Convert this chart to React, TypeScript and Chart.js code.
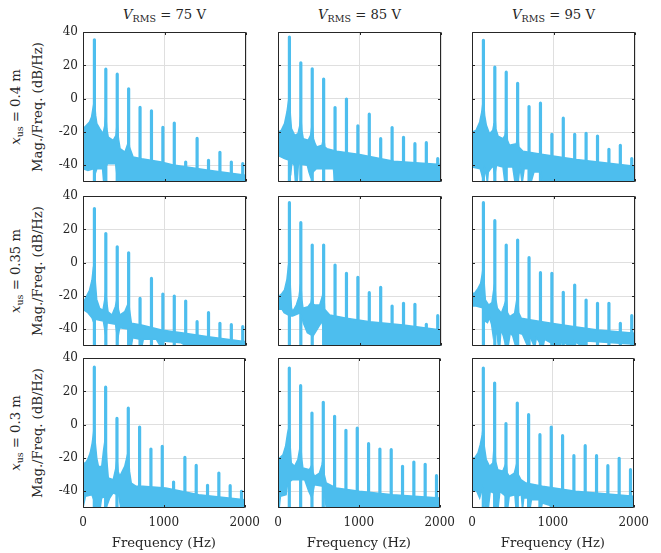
import React, { useEffect, useRef } from 'react';
import { Chart, registerables } from 'chart.js';

Chart.register(...registerables);

// ---------- data ----------
const HARMONICS_HZ = [140, 280, 420, 560, 700, 840, 980, 1120, 1260, 1400, 1540, 1680, 1820, 1960];
const FREQ_TICKS = [0, 1000, 2000];
const DB_TICKS = [-40, -20, 0, 20, 40];
const FREQ_MIN = 0;
const FREQ_MAX = 2000;
const DB_MIN = -50;
const DB_MAX = 40;
const VOLTAGES = ['75', '85', '95'];
const POSITIONS = ['0.4', '0.35', '0.3'];

// x_us = 0.4 m
const PEAKS_X04_V75 = [35.4, 17.8, 14.8, 6, -5.2, -7.2, -17.2, -14.6, -38, -23.8, -37, -32.2, -38, -39];
const UPPER_X04_V75 = [[0, -18], [40, -16], [80, -14], [105, -11], [125, -5], [140, -1], [155, -10], [170, -15], [205, -18], [245, -21], [268, -16], [280, -10], [292, -18], [310, -23], [370, -25], [405, -22], [420, -14], [435, -24], [455, -30], [515, -32], [550, -27], [560, -22], [570, -29], [615, -35], [720, -36], [960, -38], [1130, -40], [1540, -43], [2000, -46]];
const LOWER_X04_V75 = [[0, -42], [60, -43], [130, -42], [150, -45], [170, -42], [240, -42], [255, -51], [270, -42], [300, -39], [400, -39], [430, -51], [2000, -51]];

const PEAKS_X04_V85 = [37, 21.5, 17.9, 11.8, -5.3, -0.2, -16.3, -9.3, -24, -17.3, -23.2, -27, -26.4, -36];
const UPPER_X04_V85 = [[0, -20], [40, -19], [80, -15], [110, -8], [127, -2], [140, 2], [152, -10], [165, -18], [205, -22], [245, -21], [268, -16], [280, -10], [292, -19], [310, -24], [370, -25], [400, -22], [420, -15], [435, -24], [455, -27], [475, -29], [540, -28], [560, -23], [575, -29], [600, -30], [720, -31.5], [1000, -33.5], [1420, -37.5], [2000, -39.5]];
const LOWER_X04_V85 = [[0, -34], [80, -36], [140, -37], [155, -46], [170, -38], [200, -40], [215, -51], [235, -51], [250, -39], [360, -40], [380, -44], [400, -47], [430, -44], [470, -42], [680, -42], [700, -51], [2000, -51]];

const PEAKS_X04_V95 = [35, 18.9, 15.9, 9.2, -4.7, -2.7, -21.4, -11.7, -21.4, -20.8, -22.4, -30.4, -28, -36];
const UPPER_X04_V95 = [[0, -20], [50, -19], [95, -14], [120, -8], [140, 0], [155, -10], [176, -16], [215, -21], [255, -19], [270, -15], [280, -9], [292, -18], [320, -22.5], [380, -24], [405, -22], [420, -16], [435, -25], [460, -28], [545, -27], [560, -22], [575, -29], [625, -31.5], [870, -33.5], [1280, -36.5], [2000, -40.5]];
const LOWER_X04_V95 = [[0, -41], [100, -42], [123, -46], [150, -41], [180, -47], [188, -51], [200, -44], [260, -40], [278, -46], [300, -40], [380, -41], [400, -49], [420, -41], [500, -41], [530, -51], [560, -51], [590, -41], [615, -51], [640, -42], [700, -42], [720, -51], [760, -44], [840, -44], [870, -51], [2000, -51]];

// x_us = 0.35 m
const PEAKS_X035_V75 = [32.6, 17.6, 9.6, 6, -21.4, -9.4, -18.8, -20, -23, -35.4, -30, -36.4, -37.2, -38.4];
const UPPER_X035_V75 = [[0, -24.4], [40, -20.5], [80, -16.5], [110, -10.5], [127, -3], [140, 0], [152, -12], [168, -22], [205, -27.4], [245, -28.4], [266, -22.4], [280, -17], [292, -24], [307, -29.4], [356, -31.4], [397, -26.4], [420, -21], [435, -28], [451, -31.4], [512, -29.4], [550, -25], [560, -22], [570, -28], [594, -36.4], [717, -37.4], [963, -40.4], [1250, -42.4], [1537, -44.4], [2000, -47.4]];
const LOWER_X035_V75 = [[0, -28], [60, -30], [110, -33], [125, -35], [150, -34], [250, -35], [280, -44], [295, -36], [400, -37], [425, -46], [450, -39], [570, -40], [590, -51], [610, -45], [700, -46], [720, -51], [740, -46], [900, -46], [960, -51], [980, -47], [1200, -48], [1300, -51], [2000, -51]];

const PEAKS_X035_V85 = [36, 24, 10.6, 10.6, -1.4, -6.4, -8.8, -18, -14.8, -26, -24.4, -25, -37, -31.8];
const UPPER_X035_V85 = [[0, -20.4], [40, -19], [80, -16.4], [110, -10], [127, -2.4], [140, 2], [152, -15], [165, -27], [180, -29.4], [225, -25.4], [258, -20.4], [280, -12], [292, -22], [307, -27.4], [369, -26.4], [405, -24], [420, -20], [435, -25], [451, -25.4], [512, -25.4], [545, -20], [560, -16], [572, -28], [635, -31.4], [840, -33.4], [1127, -35.4], [1537, -37.4], [2000, -40.4]];
const LOWER_X035_V85 = [[0, -28], [50, -28], [75, -30], [150, -32], [180, -32], [280, -30], [310, -36], [360, -42], [430, -44], [480, -40], [540, -35], [570, -45], [590, -51], [2000, -51]];

const PEAKS_X035_V95 = [36, 25.2, 10.6, 13.6, 3, -6, -6.4, -17.8, -13.4, -22.4, -24.4, -24.4, -36.4, -31.8];
const UPPER_X035_V95 = [[0, -18.4], [30, -18.4], [74, -15.4], [106, -12.4], [127, -6.4], [140, -1], [152, -14], [164, -22.4], [204, -25.4], [245, -24], [266, -16.4], [280, -12], [292, -22], [311, -27.4], [360, -30.4], [393, -26], [420, -22], [435, -30], [462, -32.4], [523, -30.4], [550, -22], [560, -18], [572, -30], [605, -33.4], [728, -34.4], [973, -36.4], [1260, -38.4], [1546, -40.4], [2000, -42.4]];
const LOWER_X035_V95 = [[0, -26], [50, -26], [130, -27], [160, -35], [190, -36], [215, -33], [240, -37], [260, -44], [280, -38], [310, -44], [325, -51], [340, -51], [355, -40], [385, -44], [420, -51], [440, -51], [470, -42], [500, -44], [540, -51], [560, -42], [620, -43], [690, -51], [710, -44], [770, -51], [790, -45], [870, -51], [890, -46], [1080, -51], [1100, -47], [1230, -51], [1250, -47], [1380, -51], [1400, -47], [2000, -49]];

// x_us = 0.3 m
const PEAKS_X03_V75 = [34.6, 22.6, 3.8, 10, -1.4, -14.6, -13, -34.4, -19.6, -24.4, -36.4, -29, -36.6, -40];
const UPPER_X03_V75 = [[0, -23], [28, -23], [57, -21], [89, -17], [114, -11], [130, -5], [140, 0], [150, -10], [170, -20], [191, -25], [232, -25], [255, -15], [270, -10], [280, -8], [292, -20], [313, -32], [374, -33], [406, -26], [420, -20], [435, -28], [455, -31], [516, -25], [545, -19], [560, -16], [575, -28], [597, -35], [658, -37], [740, -37], [1024, -38], [1431, -42], [2000, -45]];
const LOWER_X03_V75 = [[0, -50], [10, -50], [30, -43], [110, -42], [140, -46], [160, -51], [210, -51], [230, -44], [280, -43], [300, -48], [330, -44], [370, -41], [440, -42], [470, -51], [2000, -51]];

const PEAKS_X03_V85 = [34, 23.4, 7, 13.4, 5, -3.4, -2, -11.4, -14.6, -15, -25, -22.4, -23.8, -30.6];
const UPPER_X03_V85 = [[0, -20], [20, -20], [62, -18], [94, -13], [119, -5], [140, -1], [152, -14], [164, -23], [205, -25], [246, -21], [267, -15], [280, -10], [292, -20], [308, -26], [390, -27], [410, -25], [420, -22], [435, -29], [452, -31], [513, -29], [545, -24], [560, -20], [572, -30], [596, -35], [719, -38], [1006, -40], [1417, -42], [2000, -44]];
const LOWER_X03_V85 = [[0, -50], [15, -50], [30, -43], [100, -42], [120, -35], [180, -33], [330, -33], [380, -40], [420, -44], [450, -36], [560, -37], [600, -51], [2000, -51]];

const PEAKS_X03_V95 = [34, 25, 0.6, 13, 6, -6, -1.4, -6.6, -18.6, -12.6, -18.6, -24.6, -20.2, -27];
const UPPER_X03_V95 = [[0, -20], [33, -20], [74, -17], [102, -12], [127, -6], [140, -1], [152, -13], [176, -21], [217, -25], [258, -23], [270, -15], [280, -12], [292, -22], [319, -27], [380, -28], [413, -24], [420, -22], [435, -29], [462, -31], [524, -29], [550, -24], [560, -22], [572, -30], [605, -33], [667, -35], [871, -37], [1280, -40], [2000, -43]];
const LOWER_X03_V95 = [[0, -39], [60, -40], [95, -44], [130, -38], [175, -51], [200, -51], [225, -40], [270, -41], [300, -51], [320, -51], [345, -40], [420, -43], [440, -51], [460, -43], [530, -42], [545, -51], [560, -43], [610, -42], [625, -51], [640, -44], [700, -44], [716, -51], [735, -45], [840, -45], [851, -51], [870, -47], [1000, -49], [1100, -51], [2000, -51]];

const PANEL_DATA = [
  [
    { peaks: PEAKS_X04_V75, upper: UPPER_X04_V75, lower: LOWER_X04_V75 },
    { peaks: PEAKS_X04_V85, upper: UPPER_X04_V85, lower: LOWER_X04_V85 },
    { peaks: PEAKS_X04_V95, upper: UPPER_X04_V95, lower: LOWER_X04_V95 },
  ],
  [
    { peaks: PEAKS_X035_V75, upper: UPPER_X035_V75, lower: LOWER_X035_V75 },
    { peaks: PEAKS_X035_V85, upper: UPPER_X035_V85, lower: LOWER_X035_V85 },
    { peaks: PEAKS_X035_V95, upper: UPPER_X035_V95, lower: LOWER_X035_V95 },
  ],
  [
    { peaks: PEAKS_X03_V75, upper: UPPER_X03_V75, lower: LOWER_X03_V75 },
    { peaks: PEAKS_X03_V85, upper: UPPER_X03_V85, lower: LOWER_X03_V85 },
    { peaks: PEAKS_X03_V95, upper: UPPER_X03_V95, lower: LOWER_X03_V95 },
  ],
];

// ---------- layout & style ----------
const COL_LEFT = [83, 278, 472];
const ROW_TOP = [32, 196, 358];
const PLOT_W = 163;
const PLOT_H = 150;
const PAD_L = 40;
const PAD_R = 22;
const PAD_T = 12;
const PAD_B = 45;
const BLUE = '#4DBEEE';
const GRID = '#dfdfdf';
const INK = '#262626';
const FONT = "'DejaVu Serif', serif";
const TICK_PX = 12;
const LABEL_PX = 13.2;

const boxPlugin = {
  id: 'panelBox',
  afterDatasetsDraw(chart: any) {
    const { ctx, chartArea: a, scales } = chart;
    const x = scales.x;
    const y = scales.y;
    const L = Math.round(a.left) + 0.5;
    const R = Math.round(a.right) - 0.5;
    const T = Math.round(a.top) + 0.5;
    const B = Math.round(a.bottom) - 0.5;
    ctx.save();
    ctx.strokeStyle = INK;
    ctx.lineWidth = 1;
    ctx.beginPath();
    ctx.rect(L, T, R - L, B - T);
    for (const v of DB_TICKS) {
      const py = Math.round(y.getPixelForValue(v)) + 0.5;
      ctx.moveTo(L, py);
      ctx.lineTo(L + 2.5, py);
      ctx.moveTo(R, py);
      ctx.lineTo(R - 2.5, py);
    }
    for (const v of FREQ_TICKS) {
      const px = Math.round(x.getPixelForValue(v)) + 0.5;
      ctx.moveTo(px, B);
      ctx.lineTo(px, B - 2.5);
      ctx.moveTo(px, T);
      ctx.lineTo(px, T + 2.5);
    }
    ctx.stroke();
    ctx.restore();
  },
};

function Panel({ row, col }: { row: number; col: number }) {
  const ref = useRef<HTMLCanvasElement | null>(null);
  const showX = row === 2;
  const showY = col === 0;
  const cw = PLOT_W + PAD_L + PAD_R;
  const ch = PLOT_H + PAD_T + PAD_B;

  useEffect(() => {
    const { peaks, upper, lower } = PANEL_DATA[row][col];
    const spikes: any[] = [];
    HARMONICS_HZ.forEach((f, i) => {
      spikes.push({ x: f, y: DB_MIN }, { x: f, y: peaks[i] }, { x: f, y: null });
    });
    const chart = new Chart(ref.current as HTMLCanvasElement, {
      type: 'line',
      data: {
        datasets: [
          {
            data: upper.map(([x, y]) => ({ x, y })),
            borderColor: BLUE,
            borderWidth: 1.5,
            pointRadius: 0,
            fill: false,
            clip: 0,
          },
          {
            data: lower.map(([x, y]) => ({ x, y })),
            borderColor: BLUE,
            backgroundColor: BLUE,
            borderWidth: 1.5,
            pointRadius: 0,
            fill: '-1',
            clip: 0,
          },
          {
            data: spikes,
            borderColor: BLUE,
            borderWidth: 3.2,
            borderCapStyle: 'round',
            pointRadius: 0,
            fill: false,
            spanGaps: false,
            clip: 0,
          },
        ],
      } as any,
      options: {
        animation: false,
        responsive: false,
        events: [],
        layout: { padding: { left: 0, right: PAD_R, top: PAD_T, bottom: 0 } },
        plugins: {
          legend: { display: false },
          tooltip: { enabled: false },
          title: { display: false },
        },
        scales: {
          x: {
            type: 'linear',
            min: FREQ_MIN,
            max: FREQ_MAX,
            afterBuildTicks: (s: any) => {
              s.ticks = FREQ_TICKS.map((v) => ({ value: v }));
            },
            afterFit: (s: any) => {
              s.height = PAD_B;
            },
            grid: { color: GRID, lineWidth: 1, drawTicks: false },
            border: { display: false },
            ticks: {
              display: showX,
              padding: 8,
              maxRotation: 0,
              autoSkip: false,
              color: INK,
              font: { family: FONT, size: TICK_PX },
              callback: (v: any) => String(v),
            },
            title: {
              display: showX,
              text: 'Frequency (Hz)',
              color: INK,
              font: { family: FONT, size: LABEL_PX },
              padding: { top: 0, bottom: 2 },
            },
          },
          y: {
            type: 'linear',
            min: DB_MIN,
            max: DB_MAX,
            afterBuildTicks: (s: any) => {
              s.ticks = DB_TICKS.map((v) => ({ value: v }));
            },
            afterFit: (s: any) => {
              s.width = PAD_L;
            },
            grid: { color: GRID, lineWidth: 1, drawTicks: false },
            border: { display: false },
            ticks: {
              display: showY,
              padding: 5,
              color: INK,
              font: { family: FONT, size: TICK_PX },
              callback: (v: any) => String(v),
            },
          },
        },
      } as any,
      plugins: [boxPlugin as any],
    });
    return () => chart.destroy();
  }, [row, col]);

  return (
    <canvas
      ref={ref}
      width={cw}
      height={ch}
      style={{
        position: 'absolute',
        left: COL_LEFT[col] - PAD_L,
        top: ROW_TOP[row] - PAD_T,
        width: cw,
        height: ch,
      }}
    />
  );
}

const textBase: React.CSSProperties = {
  position: 'absolute',
  fontFamily: FONT,
  fontSize: LABEL_PX,
  lineHeight: '16px',
  height: 16,
  color: INK,
  textAlign: 'center',
  whiteSpace: 'nowrap',
};

const subStyle: React.CSSProperties = {
  fontSize: '0.72em',
  position: 'relative',
  top: '0.35em',
};

export default function App() {
  return (
    <div
      style={{
        position: 'absolute',
        left: 0,
        top: 0,
        width: 661,
        height: 553,
        overflow: 'hidden',
        background: '#ffffff',
      }}
    >
      {VOLTAGES.map((v, c) => (
        <div
          key={'t' + c}
          style={{ ...textBase, left: COL_LEFT[c] + PLOT_W / 2 - 80, width: 160, top: 7 }}
        >
          <i>V</i>
          <span style={subStyle}>RMS</span> = {v} V
        </div>
      ))}
      {POSITIONS.map((p, r) => {
        const cy = ROW_TOP[r] + PLOT_H / 2;
        return (
          <React.Fragment key={'y' + r}>
            <div
              style={{
                ...textBase,
                left: 15.5 - 90,
                width: 180,
                top: cy - 8,
                transform: 'rotate(-90deg)',
              }}
            >
              <i>x</i>
              <span style={subStyle}>us</span> = {p} m
            </div>
            <div
              style={{
                ...textBase,
                left: 37.5 - 100,
                width: 200,
                top: cy - 8,
                transform: 'rotate(-90deg)',
              }}
            >
              Mag./Freq. (dB/Hz)
            </div>
          </React.Fragment>
        );
      })}
      {[0, 1, 2].map((r) =>
        [0, 1, 2].map((c) => <Panel key={r + '-' + c} row={r} col={c} />)
      )}
    </div>
  );
}
